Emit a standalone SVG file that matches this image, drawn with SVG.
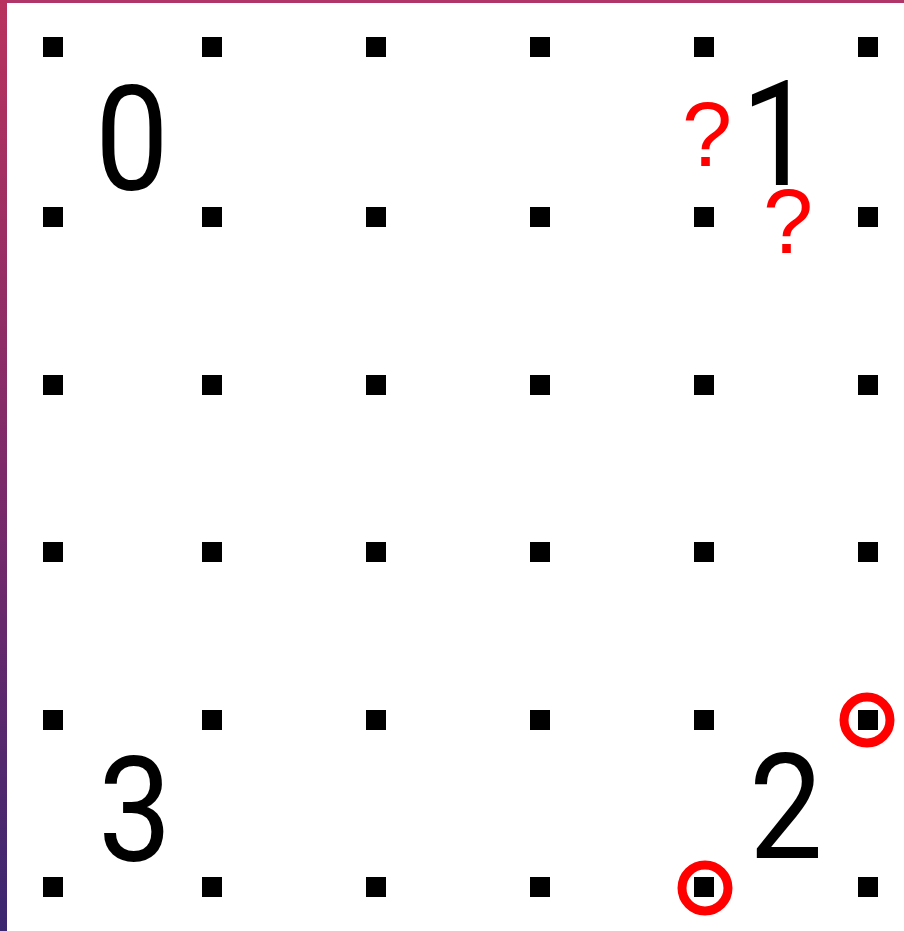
<svg xmlns="http://www.w3.org/2000/svg" width="904" height="931" viewBox="0 0 904 931">
<defs>
<linearGradient id="lg" x1="0" y1="0" x2="0" y2="1">
<stop offset="0" stop-color="#b9325f"/>
<stop offset="0.5" stop-color="#7e2a6a"/>
<stop offset="1" stop-color="#3b2770"/>
</linearGradient>
<rect id="d" x="-10" y="-10" width="20" height="20"/>
</defs>
<style>
.dot{fill:#000}
.num{font-family:Roboto,"Liberation Sans",Arial,sans-serif;font-size:146px;fill:#000;font-weight:400}
.q{font-family:"Liberation Sans",Arial,sans-serif;font-size:90px;fill:#ff0000}
.ring{fill:none;stroke:#ff0000;stroke-width:9}
</style>
<rect x="0" y="0" width="904" height="931" fill="#fff"/>
<rect x="0" y="0" width="904" height="3" fill="#b0366a"/>
<rect x="0" y="0" width="7" height="931" fill="url(#lg)"/>
<g id="dots" class="dot">
<use href="#d" x="53" y="47"/><use href="#d" x="212" y="47"/><use href="#d" x="376" y="47"/><use href="#d" x="540" y="47"/><use href="#d" x="704" y="47"/><use href="#d" x="868" y="47"/>
<use href="#d" x="53" y="217"/><use href="#d" x="212" y="217"/><use href="#d" x="376" y="217"/><use href="#d" x="540" y="217"/><use href="#d" x="704" y="217"/><use href="#d" x="868" y="217"/>
<use href="#d" x="53" y="385"/><use href="#d" x="212" y="385"/><use href="#d" x="376" y="385"/><use href="#d" x="540" y="385"/><use href="#d" x="704" y="385"/><use href="#d" x="868" y="385"/>
<use href="#d" x="53" y="552"/><use href="#d" x="212" y="552"/><use href="#d" x="376" y="552"/><use href="#d" x="540" y="552"/><use href="#d" x="704" y="552"/><use href="#d" x="868" y="552"/>
<use href="#d" x="53" y="720"/><use href="#d" x="212" y="720"/><use href="#d" x="376" y="720"/><use href="#d" x="540" y="720"/><use href="#d" x="704" y="720"/><use href="#d" x="868" y="720"/>
<use href="#d" x="53" y="887"/><use href="#d" x="212" y="887"/><use href="#d" x="376" y="887"/><use href="#d" x="540" y="887"/><use href="#d" x="704" y="887"/><use href="#d" x="868" y="887"/>
</g>
<g id="cell0"><text class="num" transform="translate(132 190) scale(0.9 1)" text-anchor="middle">0</text></g>
<g id="cell1"><text class="num" transform="translate(778 185) scale(0.9 1)" text-anchor="middle">1</text>
<text class="q" x="682" y="166">?</text>
<text class="q" x="763" y="253">?</text></g>
<g id="cell2"><text class="num" transform="translate(786 858) scale(0.9 1)" text-anchor="middle">2</text>
<circle class="ring" cx="867" cy="720" r="23"/>
<circle class="ring" cx="705" cy="888" r="23"/></g>
<g id="cell3"><text class="num" transform="translate(135 861) scale(0.9 1)" text-anchor="middle">3</text></g>
</svg>
